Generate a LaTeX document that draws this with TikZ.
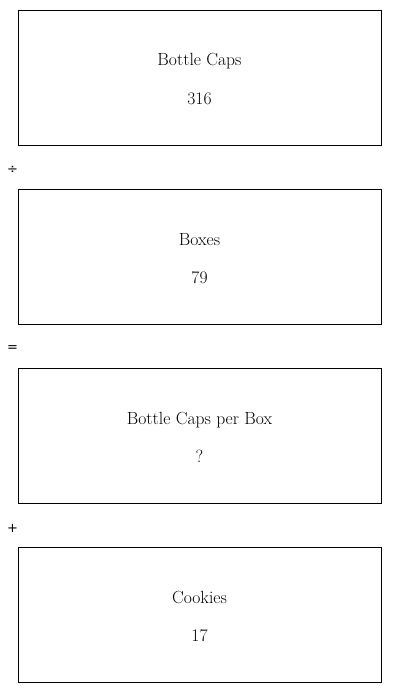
\documentclass[tikz,border=0pt]{standalone}
\usepackage{fontspec}
\newfontfamily\opfont{DejaVu Sans}
\usetikzlibrary{positioning}

\begin{document}
\begin{tikzpicture}[x=1pt,y=-1pt,
          qbox/.style={draw=black,line width=0.8pt,rectangle,
                       minimum width=363pt,minimum height=135pt,inner sep=0pt},
          qtxt/.style={font=\fontsize{17.6}{21}\selectfont,inner sep=0pt,anchor=base},
          op/.style={font=\opfont\fontsize{13}{15}\selectfont,inner sep=0pt}
        ]
        \useasboundingbox (0,0) rectangle (400,693);
        \node[qbox] (caps)    at (199.5,77.5)  {};
        \node[qbox] (boxes)   at (199.5,256.5) {};
        \node[qbox] (percap)  at (199.5,435.5) {};
        \node[qbox] (cookies) at (199.5,614.5) {};
        \node[qtxt] at ([yshift=11.5pt]caps.center)     {Bottle Caps};
        \node[qtxt] at ([yshift=-26.5pt]caps.center)    {316};
        \node[qtxt] at ([yshift=11.5pt]boxes.center)    {Boxes};
        \node[qtxt] at ([yshift=-26.5pt]boxes.center)   {79};
        \node[qtxt] at ([yshift=11.5pt]percap.center)   {Bottle Caps per Box};
        \node[qtxt] at ([yshift=-26.5pt]percap.center)  {?};
        \node[qtxt] at ([yshift=11.5pt]cookies.center)  {Cookies};
        \node[qtxt] at ([yshift=-26.5pt]cookies.center) {17};
        \node[op] (div) at (12.5,170) {÷};
        \node[op] (eq)  at (12.5,349) {=};
        \node[op] (add) at (12.5,528) {+};
      \end{tikzpicture}
\end{document}
